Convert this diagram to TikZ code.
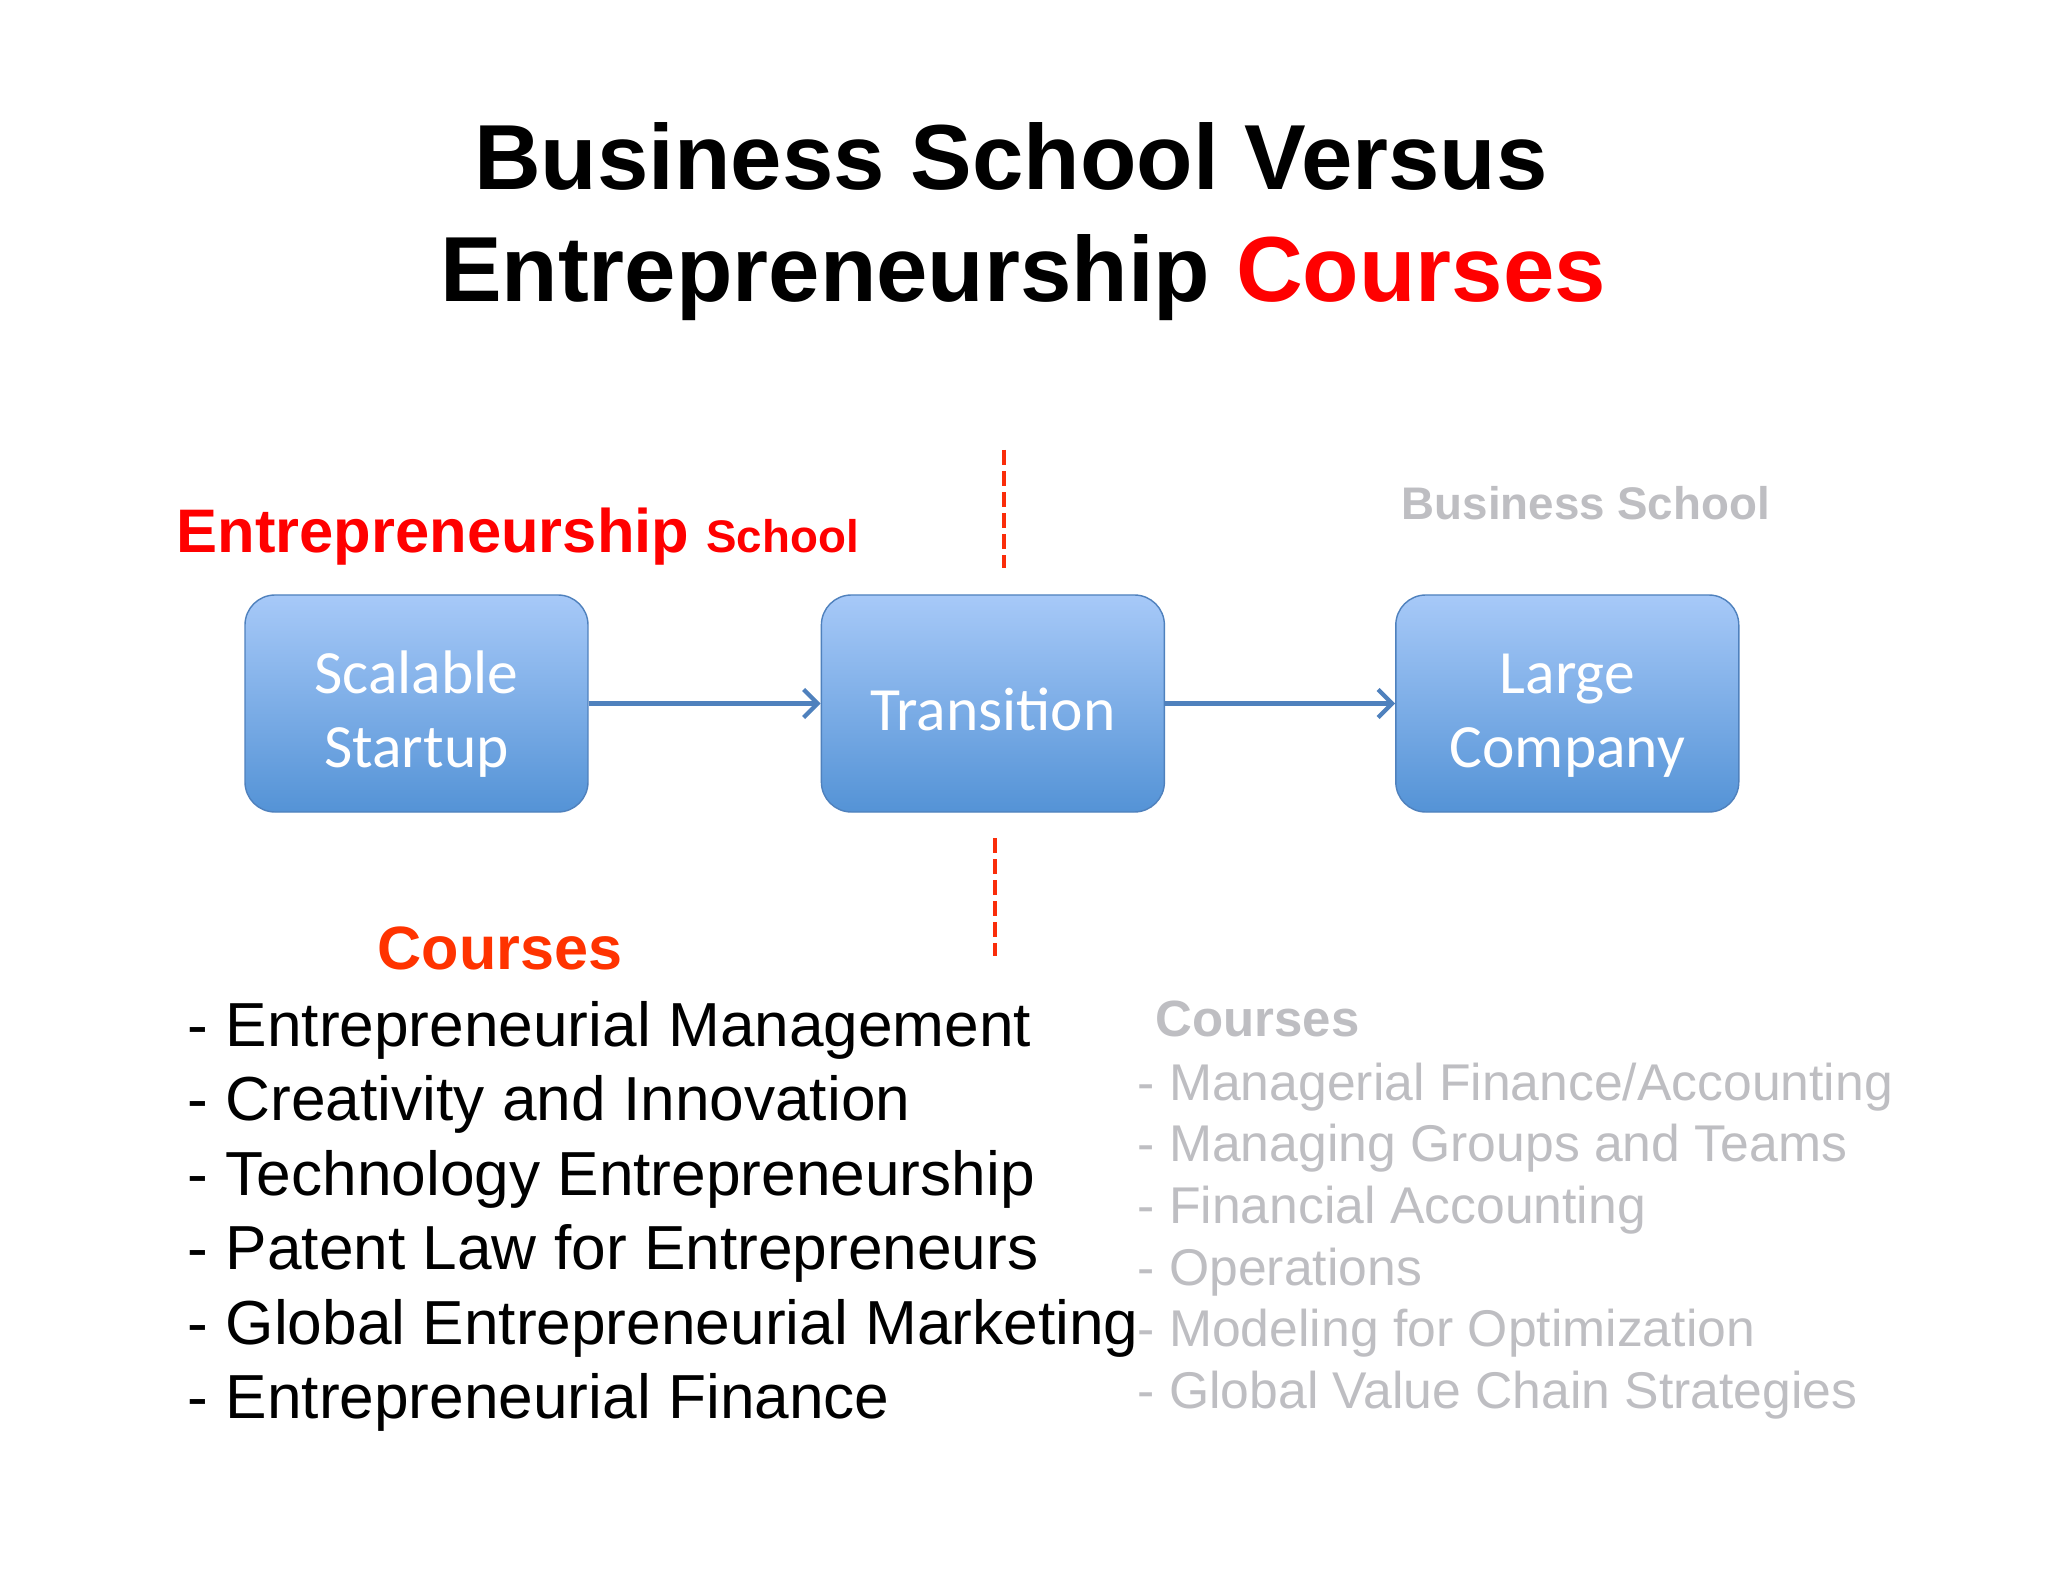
\documentclass[tikz,border=0pt]{standalone}
\usepackage{fontspec}
\setmainfont{Liberation Sans}
\newfontfamily\boxfont{Carlito}
\usetikzlibrary{arrows.meta,positioning}
\definecolor{boxblue}{RGB}{79,129,189}
\definecolor{boxtop}{RGB}{167,201,248}
\definecolor{boxbot}{RGB}{84,147,214}
\definecolor{cutred}{RGB}{250,45,10}
\definecolor{coursered}{RGB}{255,51,0}
\definecolor{fadegray}{RGB}{190,190,194}
\newcommand{\stagetext}[1]{\raisebox{0pt}[\dimexpr\height+7pt\relax][\depth]{\begin{tabular}{@{}c@{}}#1\end{tabular}}}
\tikzset{
  stage/.style={draw=boxblue, rounded corners=0.3cm, top color=boxtop, bottom color=boxbot,
    minimum width=3.43cm, minimum height=2.17cm, text=white,
    font=\boxfont\fontsize{17.5}{21.2}\selectfont},
  flow/.style={boxblue, line width=1.2pt, -{Straight Barb[length=4pt,width=8pt]}},
  cut/.style={cutred, line width=1.4pt, dash pattern=on 4.3pt off 1.7pt},
  item/.style={anchor=base west, inner sep=0pt},
}
\begin{document}
\begin{tikzpicture}
    \fill[white] (0,0) rectangle (20.48,-15.82);
    \useasboundingbox (0,0) rectangle (20.48,-15.82);
    % title
    \node[anchor=base, font=\bfseries\fontsize{26.3}{31}\selectfont] (title1) at (10.11,-1.90) {Business School Versus};
    \node[anchor=base, font=\bfseries\fontsize{26.3}{31}\selectfont] (title2) at (10.23,-3.02) {Entrepreneurship \textcolor{red}{Courses}};
    % schools
    \node[item, red, font=\bfseries\fontsize{17.5}{21}\selectfont] (entschool) at (1.76,-5.53) {Entrepreneurship {\fontsize{13}{16}\selectfont School}};
    \node[item, fadegray, font=\bfseries\fontsize{13}{16}\selectfont] (busschool) at (14.01,-5.20) {Business School};
    % stages
    \node[stage] (startup) at (4.165,-7.035) {\stagetext{Scalable\\Startup}};
    \node[stage, right=2.32cm of startup] (transition) {\stagetext{Transition}};
    \node[stage, right=2.30cm of transition] (company) {\stagetext{Large\\Company}};
    \draw[flow] (startup) -- (transition);
    \draw[flow] (transition) -- (company);
    % cut lines
    \draw[cut] (10.04,-4.50) -- (10.04,-5.68);
    \draw[cut] (9.95,-8.38) -- (9.95,-9.56);
    % entrepreneurship courses
    \node[anchor=base, coursered, font=\bfseries\fontsize{17.4}{21}\selectfont] (enthead) at (5.00,-9.69) {Courses};
    \foreach \t [count=\i] in {Entrepreneurial Management, Creativity and Innovation, Technology Entrepreneurship,
        Patent Law for Entrepreneurs, Global Entrepreneurial Marketing, Entrepreneurial Finance}
        \node[item, font=\fontsize{17.7}{21}\selectfont] (ent\i) at (1.87,{-10.46-0.745*(\i-1)}) {- \t};
    % business school courses
    \node[item, fadegray, font=\bfseries\fontsize{14.5}{18}\selectfont] (bushead) at (11.55,-10.37) {Courses};
    \foreach \t [count=\i] in {Managerial Finance/Accounting, Managing Groups and Teams, Financial Accounting,
        Operations, Modeling for Optimization, Global Value Chain Strategies}
        \node[item, fadegray, font=\fontsize{14.7}{18}\selectfont] (bus\i) at (11.37,{-11.00-0.617*(\i-1)}) {- \t};
\end{tikzpicture}
\end{document}
